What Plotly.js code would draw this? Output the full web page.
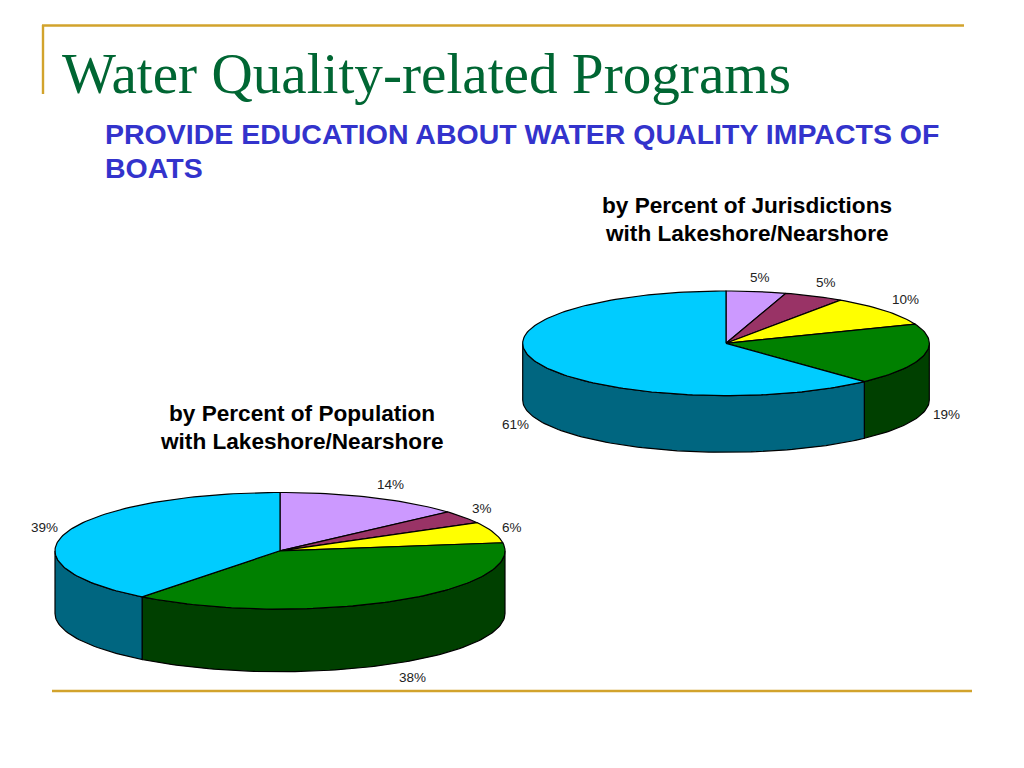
<!DOCTYPE html>
<html>
<head>
<meta charset="utf-8">
<script src="https://cdn.plot.ly/plotly-3.0.1.min.js"></script>
<style>html,body{margin:0;padding:0;background:#fff;overflow:hidden}#chart{width:1024px;height:768px}</style>
</head>
<body>
<div id="chart"></div>
<script>
// Data
const categories = ['Slice A', 'Slice B', 'Slice C', 'Slice D', 'Slice E'];
const jurisdictionValues = [4.76, 4.76, 9.52, 19.05, 61.91];
const jurisdictionLabels = ['5%', '5%', '10%', '19%', '61%'];
const populationValues = [13.4, 3.6, 5.8, 37.7, 39.5];
const populationLabels = ['14%', '3%', '6%', '38%', '39%'];

// Style
const topColors = ['#CC99FF', '#993366', '#FFFF00', '#008000', '#00CCFF'];
const sideColors = ['#664D80', '#4D1A33', '#808000', '#004000', '#006680'];

// Layout geometry, in page units
const jurisdictionPie = {cx: 726, cy: 343.3, rx: 203.3, ry: 52.3, depth: 56.7};
const populationPie = {cx: 280, cy: 550.8, rx: 225, ry: 58.3, depth: 62.6};
const jurisdictionLabelX = [760, 826, 905, 946, 515];
const jurisdictionLabelY = [277.5, 282.5, 299.5, 414, 424.5];
const populationLabelX = [390, 482, 512, 412, 44];
const populationLabelY = [484, 508.5, 527, 677, 527.5];

function pt(p, deg, dy) {
  const a = deg * Math.PI / 180;
  return [p.cx + p.rx * Math.sin(a), p.cy - p.ry * Math.cos(a) + dy];
}
function arc(p, from, to, dy) {
  const out = [];
  const n = Math.max(2, Math.ceil(Math.abs(to - from) / 1.5));
  for (let i = 0; i <= n; i++) out.push(pt(p, from + (to - from) * i / n, dy));
  return out;
}
function poly(points, color) {
  return {
    type: 'scatter', mode: 'lines', fill: 'toself', fillcolor: color,
    x: points.map(q => q[0]), y: points.map(q => q[1]),
    line: {color: '#000', width: 1.2, shape: 'linear'},
    hoverinfo: 'skip', showlegend: false
  };
}
function pieTraces(p, values) {
  const total = values.reduce((s, v) => s + v, 0);
  const sides = [], tops = [];
  let c = 0;
  values.forEach((v, i) => {
    const a0 = c / total * 360, a1 = (c + v) / total * 360;
    c += v;
    const s0 = Math.max(a0, 90), s1 = Math.min(a1, 270);
    if (s1 > s0) {
      const upper = arc(p, s0, s1, 0), lower = arc(p, s1, s0, p.depth);
      const ring = upper.concat(lower);
      ring.push(upper[0]);
      sides.push(poly(ring, sideColors[i]));
    }
    const wedge = [[p.cx, p.cy]].concat(arc(p, a0, a1, 0));
    wedge.push([p.cx, p.cy]);
    tops.push(poly(wedge, topColors[i]));
  });
  return sides.concat(tops);
}
function textNote(text, x, y, size, color, family, anchor) {
  return {
    text: text, x: x, y: y, xref: 'x', yref: 'y', showarrow: false,
    xanchor: anchor || 'center', yanchor: 'middle',
    font: {size: size, color: color, family: family}
  };
}

const sans = '"Liberation Sans", Arial, sans-serif';
const serif = '"Liberation Serif", serif';
const annotations = [
  textNote('Water Quality-related Programs', 60, 73, 57.2, '#006633', serif, 'left'),
  textNote('<b>PROVIDE EDUCATION ABOUT WATER QUALITY IMPACTS OF</b>', 103, 134, 28.5, '#3333CC', sans, 'left'),
  textNote('<b>BOATS</b>', 103, 168, 28.5, '#3333CC', sans, 'left'),
  textNote('<b>by Percent of Jurisdictions</b>', 746.5, 205, 22.6, '#000', sans),
  textNote('<b>with Lakeshore/Nearshore</b>', 746.5, 233, 22.6, '#000', sans),
  textNote('<b>by Percent of Population</b>', 301.5, 413, 22.6, '#000', sans),
  textNote('<b>with Lakeshore/Nearshore</b>', 301.5, 441, 22.6, '#000', sans)
];
jurisdictionLabels.forEach((t, i) => annotations.push(textNote(t, jurisdictionLabelX[i], jurisdictionLabelY[i], 13.5, '#222', sans)));
populationLabels.forEach((t, i) => annotations.push(textNote(t, populationLabelX[i], populationLabelY[i], 13.5, '#222', sans)));

const gold = '#D2A32C';
const rule = (x0, y0, x1, y1) => ({type: 'line', xref: 'x', yref: 'y', x0, y0, x1, y1, line: {color: gold, width: 2.4}});

const hidden = {visible: false, fixedrange: true};
Plotly.newPlot('chart',
  pieTraces(jurisdictionPie, jurisdictionValues).concat(pieTraces(populationPie, populationValues)),
  {
    width: 1024, height: 768,
    margin: {l: 0, r: 0, t: 0, b: 0},
    paper_bgcolor: '#fff', plot_bgcolor: '#fff',
    xaxis: Object.assign({range: [0, 1024]}, hidden),
    yaxis: Object.assign({range: [768, 0]}, hidden),
    showlegend: false,
    annotations: annotations,
    shapes: [rule(42, 25.5, 964, 25.5), rule(43, 25, 43, 94), rule(52, 691, 972, 691)]
  },
  {displayModeBar: false, staticPlot: true});
</script>
</body>
</html>
